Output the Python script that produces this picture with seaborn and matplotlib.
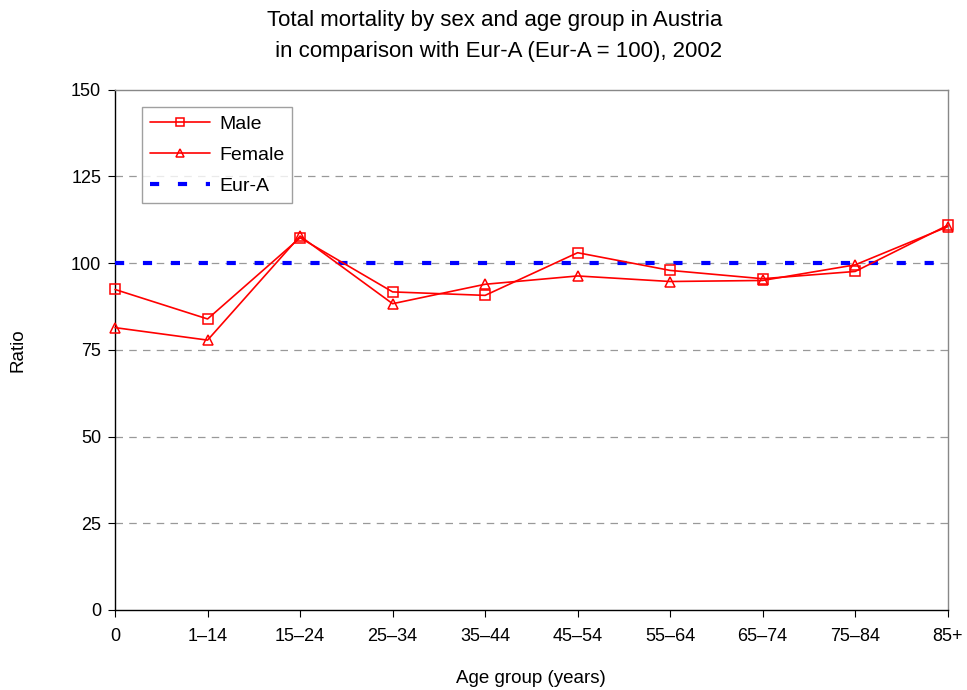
import matplotlib
matplotlib.use("Agg")
import matplotlib.pyplot as plt
import seaborn as sns
import pandas as pd

age_groups = ["0", "1\u201314", "15\u201324", "25\u201334", "35\u201344",
              "45\u201354", "55\u201364", "65\u201374", "75\u201384", "85+"]
male = [92.4, 83.9, 107.3, 91.7, 90.7, 103.0, 97.9, 95.5, 97.6, 110.9]
female = [81.4, 77.8, 107.8, 88.3, 93.9, 96.3, 94.7, 95.0, 99.5, 110.5]
eur_a = [100] * len(age_groups)
y_ticks = [0, 25, 50, 75, 100, 125, 150]

sns.set_style("white")
plt.rcParams["font.family"] = ["Liberation Sans", "DejaVu Sans"]
plt.rcParams["text.color"] = "black"
plt.rcParams["axes.labelcolor"] = "black"

df = pd.DataFrame({"pos": range(len(age_groups)), "Male": male,
                   "Female": female, "Eur-A": eur_a})

fig = plt.figure(figsize=(9.67, 6.9), dpi=100)
ax = fig.add_axes([0.119, 0.116, 0.861, 0.754])

sns.lineplot(data=df, x="pos", y="Male", ax=ax, color="#ff0000", lw=1.2,
             marker="s", markersize=6.5, markerfacecolor="none",
             markeredgecolor="#ff0000", markeredgewidth=1.1, label="Male",
             clip_on=False, zorder=4)
sns.lineplot(data=df, x="pos", y="Female", ax=ax, color="#ff0000", lw=1.2,
             marker="^", markersize=7.5, markerfacecolor="none",
             markeredgecolor="#ff0000", markeredgewidth=1.1, label="Female",
             clip_on=False, zorder=4)
sns.lineplot(data=df, x="pos", y="Eur-A", ax=ax, color="#0000ff", lw=3,
             dashes=False, label="Eur-A", zorder=3)
ax.lines[-1].set_dashes((2.2, 4.5))

ax.set_xlim(0, len(age_groups) - 1)
ax.set_ylim(0, 150)
ax.set_xticks(range(len(age_groups)))
ax.set_xticklabels(age_groups)
ax.set_yticks(y_ticks)
ax.tick_params(axis="both", labelsize=13, length=5, width=0.8,
               direction="out", colors="black", bottom=True, left=True)
ax.tick_params(axis="x", pad=8)
ax.tick_params(axis="y", pad=5)

for y in y_ticks[1:-1]:
    ax.axhline(y, color="#999999", lw=0.9, ls=(0, (6, 5)), zorder=0)

ax.spines["left"].set_color("black")
ax.spines["bottom"].set_color("black")
ax.spines["top"].set_color("#888888")
ax.spines["right"].set_color("#888888")
for s in ax.spines.values():
    s.set_linewidth(1.0)

ax.set_xlabel("Age group (years)", fontsize=13.5, labelpad=18)
ax.set_ylabel("Ratio", fontsize=13.5, labelpad=32)
fig.text(0.512, 0.985,
         "Total mortality by sex and age group in Austria\n"
         " in comparison with Eur-A (Eur-A = 100), 2002",
         fontsize=16, ha="center", va="top", linespacing=1.6, color="black")

leg = ax.legend(loc="upper left", bbox_to_anchor=(0.032, 0.966),
                borderaxespad=0, fontsize=14, frameon=True, fancybox=False,
                handlelength=3.1, labelspacing=0.68, borderpad=0.42,
                handletextpad=0.45, markerscale=0.8)
leg.get_frame().set_edgecolor("#888888")
leg.get_frame().set_linewidth(1.0)

fig.savefig("out.png", dpi=100)
